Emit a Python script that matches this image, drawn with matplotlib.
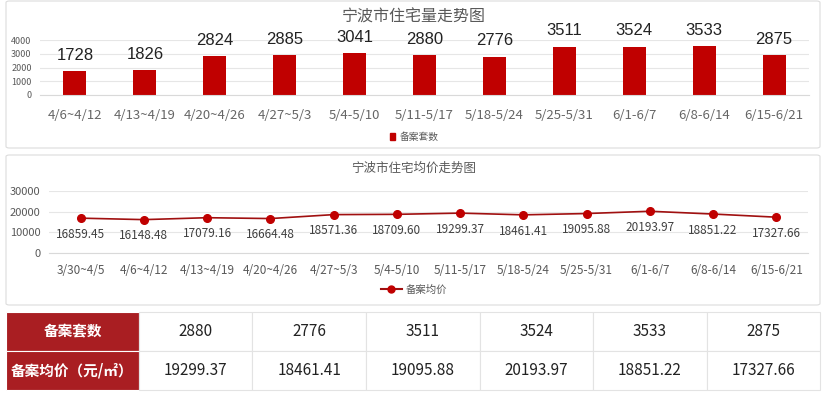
import matplotlib
matplotlib.use("Agg")
import matplotlib.pyplot as plt
from matplotlib.patches import FancyBboxPatch
from matplotlib.lines import Line2D
from matplotlib.patches import Patch
import numpy as np

plt.rcParams['font.family'] = ['Noto Sans CJK SC', 'DejaVu Sans']
plt.rcParams['axes.unicode_minus'] = False

# 备案套数 (bar chart)
bar_weeks = ['4/6~4/12', '4/13~4/19', '4/20~4/26', '4/27~5/3', '5/4-5/10', '5/11-5/17',
             '5/18-5/24', '5/25-5/31', '6/1-6/7', '6/8-6/14', '6/15-6/21']
bar_counts = [1728, 1826, 2824, 2885, 3041, 2880, 2776, 3511, 3524, 3533, 2875]

# 备案均价 (line chart)
line_weeks = ['3/30~4/5', '4/6~4/12', '4/13~4/19', '4/20~4/26', '4/27~5/3', '5/4-5/10',
              '5/11-5/17', '5/18-5/24', '5/25-5/31', '6/1-6/7', '6/8-6/14', '6/15-6/21']
line_prices = [16859.45, 16148.48, 17079.16, 16664.48, 18571.36, 18709.60,
               19299.37, 18461.41, 19095.88, 20193.97, 18851.22, 17327.66]

# 表格
table_counts = ['2880', '2776', '3511', '3524', '3533', '2875']
table_prices = ['19299.37', '18461.41', '19095.88', '20193.97', '18851.22', '17327.66']
row_labels = ['备案套数', '备案均价（元/㎡）']

W, H = 828, 395
fig = plt.figure(figsize=(W / 100, H / 100), dpi=100, facecolor='white')

RED = '#C00000'
GRAY = '#595959'
GRID = '#E6E6E6'


def px_axes(x0, y0, x1, y1):
    """像素坐标 (左上原点) -> 图坐标 axes"""
    return fig.add_axes([x0 / W, 1 - y1 / H, (x1 - x0) / W, (y1 - y0) / H])


def panel(x0, y0, x1, y1):
    box = FancyBboxPatch((x0 / W, 1 - y1 / H), (x1 - x0) / W, (y1 - y0) / H,
                         boxstyle='round,pad=0,rounding_size=0.004',
                         transform=fig.transFigure, facecolor='white',
                         edgecolor='#DCDCDC', linewidth=0.8, zorder=-10)
    fig.patches.append(box)


def clean(ax):
    for s in ['top', 'right', 'left']:
        ax.spines[s].set_visible(False)
    ax.spines['bottom'].set_color('#D9D9D9')
    ax.tick_params(length=0)
    ax.grid(axis='y', color=GRID, linewidth=0.8)
    ax.set_axisbelow(True)
    ax.set_facecolor('none')


panel(6, 1, 820, 148)
panel(6, 155, 820, 305)

# ---- 柱状图 ----
ax1 = px_axes(40, 40, 809, 95)
x = np.arange(len(bar_weeks))
bars = ax1.bar(x, bar_counts, width=0.33, color=RED)
ax1.set_xlim(-0.5, len(bar_weeks) - 0.5)
ax1.set_ylim(0, 4000)
ax1.set_yticks([0, 1000, 2000, 3000, 4000])
ax1.set_xticks(x)
ax1.set_xticklabels(bar_weeks, fontsize=9.5, color='#666666')
ax1.tick_params(axis='x', pad=10)
ax1.tick_params(axis='y', labelsize=6.5, labelcolor=GRAY, pad=6)
clean(ax1)
for b, v in zip(bars, bar_counts):
    ax1.annotate(str(v), (b.get_x() + b.get_width() / 2, v), xytext=(0, 6),
                 textcoords='offset points', ha='center', va='bottom',
                 fontsize=12, family='Liberation Sans', color='#222222',
                 annotation_clip=False)
fig.text(0.5, 1 - 17 / H, '宁波市住宅量走势图', ha='center', va='center',
         fontsize=11.5, color=GRAY)
fig.legend(handles=[Patch(color=RED, label='备案套数')], loc='center',
           bbox_to_anchor=(0.5, 1 - 137 / H), frameon=False, fontsize=7,
           handlelength=0.6, handleheight=0.6, handletextpad=0.4,
           labelcolor=GRAY)

# ---- 折线图 ----
ax2 = px_axes(49, 191, 808, 253)
x2 = np.arange(len(line_weeks))
ax2.plot(x2, line_prices, color='#A01010', linewidth=1.2, marker='o',
         markersize=5.5, markerfacecolor=RED, markeredgecolor=RED)
ax2.set_xlim(-0.5, len(line_weeks) - 0.5)
ax2.set_ylim(0, 30000)
ax2.set_yticks([0, 10000, 20000, 30000])
ax2.set_xticks(x2)
ax2.set_xticklabels(line_weeks, fontsize=8.5, color=GRAY)
ax2.tick_params(axis='x', pad=8)
ax2.tick_params(axis='y', labelsize=8, labelcolor=GRAY, pad=6)
clean(ax2)
for xi, v in zip(x2, line_prices):
    ax2.annotate(f'{v:.2f}', (xi, v), xytext=(0, -7), textcoords='offset points',
                 ha='center', va='top', fontsize=8.5, color='#404040')
fig.text(0.5, 1 - 168 / H, '宁波市住宅均价走势图', ha='center', va='center',
         fontsize=9, color=GRAY)
fig.legend(handles=[Line2D([], [], color='#A01010', marker='o', markersize=5,
                           markerfacecolor=RED, markeredgecolor=RED, label='备案均价')],
           loc='center', bbox_to_anchor=(0.5, 1 - 290 / H), frameon=False,
           fontsize=7.5, handlelength=2, handletextpad=0.4, labelcolor=GRAY)

# ---- 表格 ----
ax3 = px_axes(6, 312, 820, 390)
ax3.axis('off')
cells = [[row_labels[0]] + table_counts, [row_labels[1]] + table_prices]
first_w = 133
other_w = (814 - first_w) / len(table_counts)
tbl = ax3.table(cellText=cells, bbox=[0, 0, 1, 1],
                colWidths=[first_w] + [other_w] * len(table_counts),
                cellLoc='center')
tbl.auto_set_font_size(False)
for (r, c), cell in tbl.get_celld().items():
    cell.set_linewidth(0.8)
    if c == 0:
        cell.set_facecolor('#A91E22')
        cell.set_edgecolor('white')
        cell.get_text().set_color('white')
        cell.get_text().set_fontweight('bold')
        cell.get_text().set_fontsize(10.5)
    else:
        cell.set_facecolor('white')
        cell.set_edgecolor('#E3E3E3')
        cell.get_text().set_color('#222222')
        cell.get_text().set_fontsize(11)

fig.savefig('out.png', dpi=100, facecolor='white')
